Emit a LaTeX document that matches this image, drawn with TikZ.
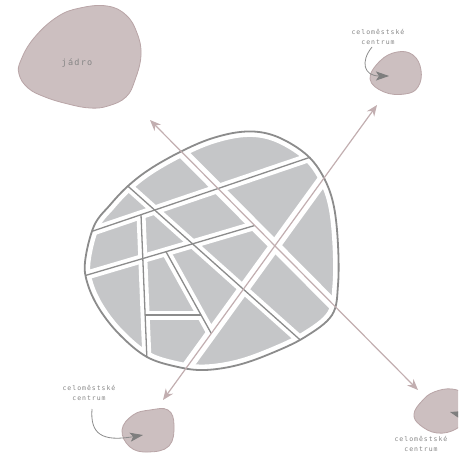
\documentclass[tikz,border=0pt]{standalone}
\usepackage{fontspec}
\newfontfamily\lblfont[LetterSpace=15]{DejaVu Sans Mono}
\usetikzlibrary{arrows.meta}
\definecolor{blockgray}{HTML}{C5C6C8}
\definecolor{linegray}{HTML}{8C8C8C}
\definecolor{rose}{HTML}{C2AEB0}
\definecolor{blobfill}{HTML}{CCBFC0}
\definecolor{blobline}{HTML}{B9A5A7}
\definecolor{txtgray}{HTML}{858585}
\definecolor{headgray}{HTML}{7E7E7E}
\tikzset{
  block/.style={fill=blockgray, rounded corners=13pt},
  street/.style={draw=white, line width=9pt},
  bigstreet/.style={draw=white, line width=11pt},
  centerline/.style={draw=linegray, line width=1.3pt},
  pinkarrow/.style={draw=rose, line width=1.2pt,
    {Stealth[length=11pt,width=9pt,inset=3.5pt,color=rose]}-{Stealth[length=11pt,width=9pt,inset=3.5pt,color=rose]}},
  pinkblob/.style={fill=blobfill, draw=blobline, line width=0.8pt},
  callout/.style={draw=linegray, line width=0.8pt,
    -{Stealth[length=13pt,width=9pt,inset=3pt,color=headgray]}},
  lbl/.style={text=txtgray, font=\lblfont\fontsize{6.5}{10}\selectfont, align=center, inner sep=0pt},
}
\begin{document}
\begin{tikzpicture}[x=1pt,y=-1pt]
\useasboundingbox (0,0) rectangle (458,460);
\clip (0,0) rectangle (458,460);

% satellite blobs
\draw[pinkblob] plot[smooth cycle, tension=0.7] coordinates {(57,17) (80,8) (107,6) (126,15) (137,33) (141,55) (135,80) (126,97) (108,106) (90,108) (68,104) (45,97) (28,88) (19,74) (21,60) (34,38)};
\node[lbl, font=\lblfont\fontsize{8.5}{10}\selectfont] (core) at (77,63) {jádro};

\draw[pinkblob] plot[smooth cycle, tension=0.7] coordinates {(370,79) (380,61) (397,52) (413,55) (421,70) (418,87) (405,94) (384,92)};
\draw[pinkblob] plot[smooth cycle, tension=0.7] coordinates {(122,430) (133,415) (150,410) (168,410) (174,425) (169,446) (148,452) (130,447)};
\draw[pinkblob] plot[smooth cycle, tension=0.7] coordinates {(414,414) (422,401) (434,392) (452,389) (464,396) (467,416) (456,429) (437,433) (420,425)};

\node[lbl] (lur) at (378,37) {celoměstské\\centrum};
\node[lbl] (lll) at (89,393) {celoměstské\\centrum};
\node[lbl] (llr) at (421,443.5) {celoměstské\\centrum};

\coordinate (tipur) at (389,76);
\coordinate (tipll) at (143,435);
\coordinate (tiplr) at (450,412);
\coordinate (srclr) at (472,418);
\draw[callout] (372,47) .. controls (360,62) and (364,76) .. (tipur);
\draw[callout] (92,409) .. controls (90,434) and (102,442) .. (tipll);
\draw[callout] (srclr) -- (tiplr);

% network points
\coordinate (P1) at (218,188.5);
\coordinate (P2) at (254.7,225.5);
\coordinate (P3) at (274.9,245.8);
\coordinate (P4) at (154.7,210);
\coordinate (P5) at (141,214.6);
\coordinate (P6) at (142.8,258.5);
\coordinate (P7) at (192.5,243.9);
\coordinate (P8) at (166,251.7);
\coordinate (P9) at (243.4,289.2);
\coordinate (P10) at (211.3,333.5);
\coordinate (P11) at (145.2,315);
\coordinate (P12) at (201,315);
\coordinate (S1a) at (60,242.2);
\coordinate (S1b) at (330,150.5);
\coordinate (S2a) at (60,283);
\coordinate (S3a) at (105,165.7);
\coordinate (S3b) at (320,357.6);
\coordinate (V1b) at (148,385);
\coordinate (PAa) at (160,130.1);
\coordinate (PAb) at (360,331.6);
\coordinate (PBa) at (180,376.6);
\coordinate (PBb) at (340,156);

\begin{scope}
\clip plot[smooth cycle, tension=0.6] coordinates {(85,262) (94,226) (110,205) (128,186) (150,169) (180,152) (210,139) (240,132) (265,133) (288,142) (310,158) (325,180) (334,207) (338,245) (338,285) (332,315) (305,337) (272,353) (238,365) (205,370) (178,367) (147,357) (120,335) (100,310) (88,285)};
% blocks
\fill[block] (P4) -- (S1a) -- (60,150) -- (S3a) -- cycle;
\fill[block] (P4) -- (S3a) -- (PAa) -- (P1) -- cycle;
\fill[block] (P1) -- (PAa) -- (160,100) -- (330,100) -- (S1b) -- cycle;
\fill[block] (P1) -- (S1b) -- (PBb) -- (P3) -- cycle;
\fill[block] (P3) -- (PBb) -- (370,160) -- (370,330) -- (PAb) -- cycle;
\fill[block] (P3) -- (PAb) -- (S3b) -- (P9) -- cycle;
\fill[block] (P9) -- (S3b) -- (320,400) -- (180,400) -- (PBa) -- cycle;
\fill[block] (P7) -- (P2) -- (P3) -- (P9) -- cycle;
\fill[block] (P4) -- (P1) -- (P2) -- (P7) -- cycle;
\fill[block, rounded corners=7pt] (P5) -- (P4) -- (P7) -- (P6) -- cycle;
\fill[block] (P5) -- (S1a) -- (S2a) -- (P6) -- cycle;
\fill[block] (P6) -- (S2a) -- (60,400) -- (V1b) -- cycle;
\fill[block, rounded corners=11pt] (P6) -- (P8) -- (P12) -- (P11) -- cycle;
\fill[block, rounded corners=11pt] (P8) -- (P7) -- (P9) -- (P10) -- cycle;
\fill[block, rounded corners=10pt] (P11) -- (P12) -- (P10) -- (PBa) -- (V1b) -- cycle;
% streets
\path[street] (S1a) -- (S1b);
\path[street] (S2a) -- (P2);
\path[street] (S3a) -- (S3b);
\path[street] (P5) -- (V1b);
\path[street] (P8) -- (P10);
\path[street] (P11) -- (P12);
\path[bigstreet] (PAa) -- (PAb);
\path[bigstreet] (PBa) -- (PBb);
\end{scope}

% city outline
\draw[linegray, line width=1.8pt, preaction={draw=white, line width=11pt}] plot[smooth cycle, tension=0.6] coordinates {(85,262) (94,226) (110,205) (128,186) (150,169) (180,152) (210,139) (240,132) (265,133) (288,142) (310,158) (325,180) (334,207) (338,245) (338,285) (332,315) (305,337) (272,353) (238,365) (205,370) (178,367) (147,357) (120,335) (100,310) (88,285)};

\begin{scope}
\clip plot[smooth cycle, tension=0.6] coordinates {(85,262) (94,226) (110,205) (128,186) (150,169) (180,152) (210,139) (240,132) (265,133) (288,142) (310,158) (325,180) (334,207) (338,245) (338,285) (332,315) (305,337) (272,353) (238,365) (205,370) (178,367) (147,357) (120,335) (100,310) (88,285)};
\path[centerline] (S1a) -- (S1b);
\path[centerline] (S2a) -- (P2);
\path[centerline] (S3a) -- (S3b);
\path[centerline] (P5) -- (V1b);
\path[centerline] (P8) -- (P10);
\path[centerline] (P11) -- (P12);
\end{scope}

% main axes
\coordinate (ax1) at (150,120);
\coordinate (ax2) at (418,390);
\coordinate (ax3) at (163,400);
\coordinate (ax4) at (377,105);
\draw[pinkarrow] (ax1) -- (ax2);
\draw[pinkarrow] (ax3) -- (ax4);
\end{tikzpicture}
\end{document}
